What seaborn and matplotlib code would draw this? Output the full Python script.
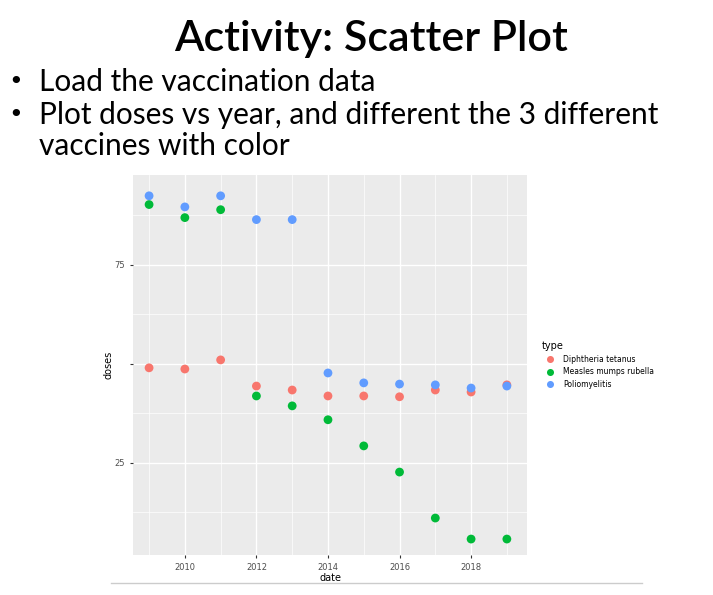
import pandas as pd
import matplotlib.pyplot as plt
import seaborn as sns
from matplotlib.lines import Line2D

years = list(range(2009, 2020))
diphtheria = [49.0, 48.7, 51.0, 44.4, 43.4, 41.9, 41.9, 41.7, 43.4, 42.9, 44.7]
measles = [90.2, 86.9, 88.9, 41.9, 39.4, 35.9, 29.3, 22.7, 11.1, 5.8, 5.8]
polio = [92.4, 89.6, 92.4, 86.4, 86.4, 47.7, 45.2, 44.9, 44.7, 43.9, 44.4]
types = ["Diphtheria tetanus", "Measles mumps rubella", "Poliomyelitis"]
colors = ["#F8766D", "#00BA38", "#619CFF"]

df = pd.DataFrame({
    "date": years * 3,
    "doses": diphtheria + measles + polio,
    "type": [types[0]] * 11 + [types[1]] * 11 + [types[2]] * 11,
})

fig = plt.figure(figsize=(7.13, 5.95), dpi=100)
fig.text(0.52, 0.935, "Activity: Scatter Plot", ha="center", va="center",
         fontsize=31, family="Lato", weight="semibold")
fig.text(0.012, 0.862, "•", fontsize=18, va="center")
fig.text(0.055, 0.862, "Load the vaccination data", fontsize=21.5, va="center", family="Lato")
fig.text(0.012, 0.807, "•", fontsize=18, va="center")
fig.text(0.055, 0.807, "Plot doses vs year, and different the 3 different", fontsize=21.5,
         va="center", family="Lato")
fig.text(0.055, 0.755, "vaccines with color", fontsize=21.5, va="center", family="Lato")
fig.add_artist(Line2D([0.155, 0.9], [0.02, 0.02], color="#cccccc", lw=1))

ax = fig.add_axes([0.1865, 0.0672, 0.553, 0.639])
ax.set_facecolor("#EBEBEB")
sns.scatterplot(data=df, x="date", y="doses", hue="type", palette=colors,
                s=40, edgecolor="none", ax=ax, zorder=3)
ax.set_xlim(2008.55, 2019.57)
ax.set_ylim(1.77, 97.7)
ax.set_xticks([2010, 2012, 2014, 2016, 2018])
ax.set_xticks([2009, 2011, 2013, 2015, 2017, 2019], minor=True)
ax.set_yticks([25, 50, 75])
ax.set_yticklabels(["25", "", "75"])
ax.set_yticks([12.5, 37.5, 62.5, 87.5], minor=True)
ax.grid(which="major", color="white", lw=1)
ax.grid(which="minor", color="white", lw=0.5)
ax.set_axisbelow(True)
for s in ax.spines.values():
    s.set_visible(False)
ax.tick_params(which="both", length=2, color="#333333", labelsize=6, labelcolor="#4D4D4D")
ax.tick_params(which="minor", length=0)
ax.set_xlabel("date", fontsize=7, labelpad=1)
ax.set_ylabel("doses", fontsize=7, labelpad=1)
leg = ax.legend(title="type", loc="center left", bbox_to_anchor=(1.02, 0.5),
                frameon=False, fontsize=5.5, title_fontsize=7, markerscale=0.8)
leg._legend_box.align = "left"

fig.savefig("out.png", dpi=100)
